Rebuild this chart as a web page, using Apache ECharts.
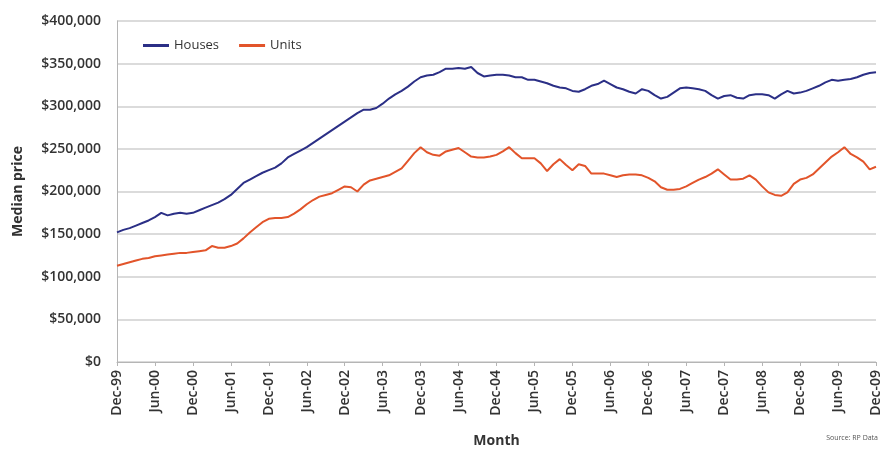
<!DOCTYPE html>
<html>
<head>
<meta charset="utf-8">
<script src="https://cdn.jsdelivr.net/npm/echarts@6/dist/echarts.min.js"></script>
<style>
  html, body { margin: 0; padding: 0; background: #fff; }
  #main { width: 884px; height: 450px; }
</style>
</head>
<body>
<div id="main"></div>
<script>
// months Dec-99 .. Dec-09
var monthNames = ['Jan','Feb','Mar','Apr','May','Jun','Jul','Aug','Sep','Oct','Nov','Dec'];
var months = [];
for (var k = 0; k <= 120; k++) {
  var m = (11 + k) % 12;
  var yr = (1999 + Math.floor((11 + k) / 12)) % 100;
  months.push(monthNames[m] + '-' + (yr < 10 ? '0' + yr : '' + yr));
}

// median price, $'000
var houses = [
  152,155,157,160,163,166,170,175,172,174,175,174,
  175,178,181,184,187,191,196,203,210,214,218,222,
  225,228,233,240,244,248,252,257,262,267,272,277,
  282,287,292,296,296,298,303,309,314,318,323,329,
  334,336,337,340,344,344,345,344,346,339,335,336,
  337,337,336,334,334,331,331,329,327,324,322,321,
  318,317,320,324,326,330,326,322,320,317,315,320,
  318,313,309,311,316,321,322,321,320,318,313,309,
  312,313,310,309,313,314,314,313,309,314,318,315,
  316,318,321,324,328,331,330,331,332,334,337,339,
  340
];
var units = [
  113,115,117,119,121,122,124,125,126,127,128,128,
  129,130,131,136,134,134,136,139,145,152,158,164,
  168,169,169,170,174,179,185,190,194,196,198,202,
  206,205,200,208,213,215,217,219,223,227,236,245,
  252,246,243,242,247,249,251,246,241,240,240,241,
  243,247,252,245,239,239,239,233,224,232,238,231,
  225,232,230,221,221,221,219,217,219,220,220,219,
  216,212,205,202,202,203,206,210,214,217,221,226,
  220,214,214,215,219,214,206,199,196,195,199,209,
  214,216,220,227,234,241,246,252,244,240,235,226,
  229
];

var txt = '#333';
var font = 'Open Sans';

var chart = echarts.init(document.getElementById('main'));
chart.setOption({
  animation: false,
  grid: { left: 117, right: 8, top: 21, bottom: 88, containLabel: false, outerBoundsMode: 'none' },
  legend: {
    left: 138, top: 34,
    itemWidth: 26, itemHeight: 3, itemGap: 20,
    icon: 'rect',
    textStyle: { color: txt, fontFamily: font, fontSize: 13 },
    data: ['Houses', 'Units']
  },
  xAxis: {
    type: 'category',
    data: months,
    boundaryGap: false,
    name: 'Month',
    nameLocation: 'middle',
    nameGap: 72,
    nameTextStyle: { color: txt, fontFamily: font, fontSize: 14, fontWeight: 'bold' },
    axisLine: { lineStyle: { color: '#b5b5b5' } },
    axisTick: { interval: 5, length: 4, lineStyle: { color: '#b5b5b5' } },
    axisLabel: {
      interval: 5, rotate: 90, margin: 8,
      color: txt, fontFamily: font, fontSize: 14, fontWeight: 600
    },
    splitLine: { show: false }
  },
  yAxis: {
    type: 'value',
    min: 0, max: 400, interval: 50,
    name: 'Median price',
    nameLocation: 'middle',
    nameGap: 92,
    nameTextStyle: { color: txt, fontFamily: font, fontSize: 14, fontWeight: 'bold' },
    axisLine: { show: true, lineStyle: { color: '#b5b5b5' } },
    axisTick: { show: false },
    axisLabel: {
      margin: 16, color: txt, fontFamily: font, fontSize: 14, fontWeight: 600,
      formatter: function (v) {
        return v === 0 ? '$0' : '$' + v + ',000';
      }
    },
    splitLine: { lineStyle: { color: '#cfcfcf', width: 1.5 } }
  },
  series: [
    {
      name: 'Houses', type: 'line', data: houses,
      showSymbol: false, symbol: 'none',
      lineStyle: { color: '#2b2f86', width: 2 },
      itemStyle: { color: '#2b2f86' }
    },
    {
      name: 'Units', type: 'line', data: units,
      showSymbol: false, symbol: 'none',
      lineStyle: { color: '#e2542a', width: 2 },
      itemStyle: { color: '#e2542a' }
    }
  ],
  graphic: [
    {
      type: 'text', right: 6, top: 434,
      style: { text: 'Source: RP Data', fill: '#555', font: '7px "Open Sans"' }
    }
  ]
});
</script>
</body>
</html>
